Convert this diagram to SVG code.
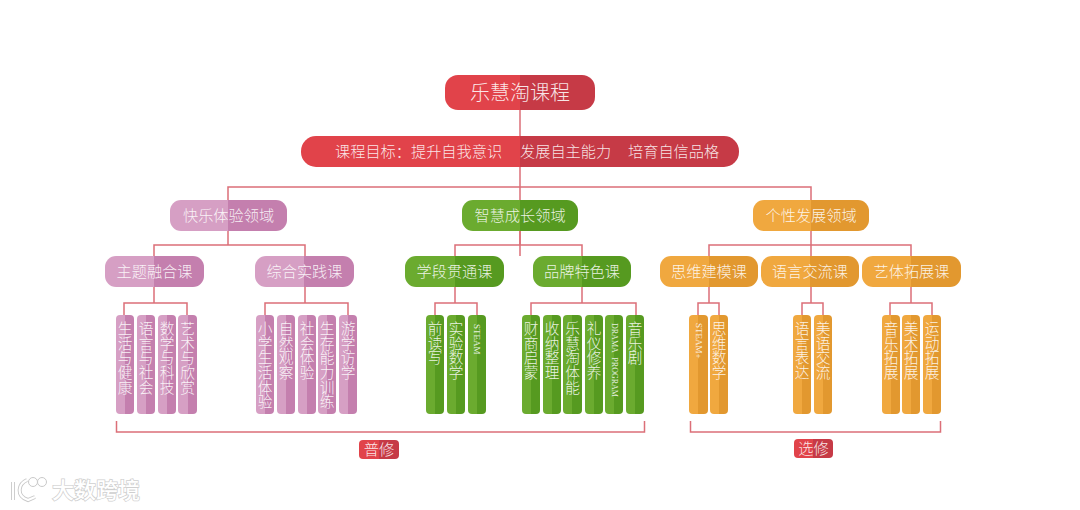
<svg xmlns="http://www.w3.org/2000/svg" width="1080" height="510" viewBox="0 0 1080 510">
<style>
text{font-family:"Noto Sans CJK SC","Noto Sans",sans-serif;font-weight:300;fill:#fff;fill-opacity:.88}
.h{font-size:15.2px;text-anchor:middle}
.v{font-size:14.7px;writing-mode:vertical-rl}
.l{font-family:"Liberation Serif",serif;font-size:9px;writing-mode:vertical-rl}
.c{fill:none;stroke:#dc6f78;stroke-width:1.5}
.w{fill:#fff;stroke:#c9c9c9;stroke-width:1}
.red{fill:url(#gr)}.pur{fill:url(#gp)}.grn{fill:url(#gg)}.org{fill:url(#go)}
</style>
<defs>
<linearGradient id="gr"><stop offset=".5" stop-color="#e1434a"/><stop offset=".5" stop-color="#c63a46"/></linearGradient>
<linearGradient id="gp"><stop offset=".5" stop-color="#d69fc4"/><stop offset=".5" stop-color="#c47fae"/></linearGradient>
<linearGradient id="gg"><stop offset=".5" stop-color="#6bab2f"/><stop offset=".5" stop-color="#569a20"/></linearGradient>
<linearGradient id="go"><stop offset=".5" stop-color="#f0a83f"/><stop offset=".5" stop-color="#e2982f"/></linearGradient>
</defs>
<rect width="1080" height="510" fill="#fff"/>
<g id="connectors">
<path class="c" d="M520 110V256M228 200V187H811V200M228 231V245M154 256V245H305V256M154 287V303M124 315V303H187V315M305 287V303M265 315V303H348V315"/>
<path class="c" d="M455 256V245H582V256M520 231V245M455 287V303M435 315V303H477V315M582 287V303M531 315V303H636V315"/>
<path class="c" d="M811 231V256M709 256V245H911V256M709 287V303M698 315V303H719V315M811 287V303M802 315V303H823V315M911 287V303M890 315V303H932V315"/>
<path class="c" d="M116.500 421V432H644.500V421M690.500 421V432H940.500V421"/>
</g>
<g id="root"><rect class="red" x="445" y="75" width="150" height="35" rx="13"/><text x="520" y="100" class="h" style="font-size:20px">乐慧淘课程</text></g>
<g id="goal"><rect class="red" x="301" y="136" width="438" height="31" rx="15"/><text y="157" style="font-size:15.200px"><tspan x="335">课程目标：提升自我意识</tspan><tspan x="520">发展自主能力</tspan><tspan x="628">培育自信品格</tspan></text></g>
<g id="domain-1"><rect class="pur" x="170" y="200" width="117" height="31" rx="11"/><text x="228.500" y="221" class="h">快乐体验领域</text></g>
<g id="domain-2"><rect class="grn" x="462" y="200" width="116" height="31" rx="11"/><text x="520" y="221" class="h">智慧成长领域</text></g>
<g id="domain-3"><rect class="org" x="753" y="200" width="116" height="31" rx="11"/><text x="811" y="221" class="h">个性发展领域</text></g>
<g id="course-1"><rect class="pur" x="105" y="256" width="99" height="31" rx="11"/><text x="154.500" y="277" class="h">主题融合课</text></g>
<g id="course-2"><rect class="pur" x="255" y="256" width="99" height="31" rx="11"/><text x="304.500" y="277" class="h">综合实践课</text></g>
<g id="course-3"><rect class="grn" x="405" y="256" width="99" height="31" rx="11"/><text x="454.500" y="277" class="h">学段贯通课</text></g>
<g id="course-4"><rect class="grn" x="533" y="256" width="98" height="31" rx="11"/><text x="582" y="277" class="h">品牌特色课</text></g>
<g id="course-5"><rect class="org" x="660" y="256" width="98" height="31" rx="11"/><text x="709" y="277" class="h">思维建模课</text></g>
<g id="course-6"><rect class="org" x="761" y="256" width="98" height="31" rx="11"/><text x="810" y="277" class="h">语言交流课</text></g>
<g id="course-7"><rect class="org" x="862" y="256" width="99" height="31" rx="11"/><text x="911.500" y="277" class="h">艺体拓展课</text></g>
<g id="bar-1"><rect class="pur" x="116" y="315" width="18" height="99" rx="4"/><text class="v" x="125" y="321">生活与健康</text></g>
<g id="bar-2"><rect class="pur" x="137" y="315" width="18" height="99" rx="4"/><text class="v" x="146" y="321">语言与社会</text></g>
<g id="bar-3"><rect class="pur" x="158" y="315" width="18" height="99" rx="4"/><text class="v" x="167" y="321">数学与科技</text></g>
<g id="bar-4"><rect class="pur" x="178" y="315" width="19" height="99" rx="4"/><text class="v" x="187.500" y="321">艺术与欣赏</text></g>
<g id="bar-5"><rect class="pur" x="256" y="315" width="18" height="99" rx="4"/><text class="v" x="265" y="321">小学生活体验</text></g>
<g id="bar-6"><rect class="pur" x="277" y="315" width="18" height="99" rx="4"/><text class="v" x="286" y="321">自然观察</text></g>
<g id="bar-7"><rect class="pur" x="298" y="315" width="18" height="99" rx="4"/><text class="v" x="307" y="321">社会体验</text></g>
<g id="bar-8"><rect class="pur" x="318" y="315" width="18" height="99" rx="4"/><text class="v" x="327" y="321">生存能力训练</text></g>
<g id="bar-9"><rect class="pur" x="339" y="315" width="18" height="99" rx="4"/><text class="v" x="348" y="321">游学访学</text></g>
<g id="bar-10"><rect class="grn" x="426" y="315" width="18" height="99" rx="4"/><text class="v" x="435" y="321">前读写</text></g>
<g id="bar-11"><rect class="grn" x="447" y="315" width="18" height="99" rx="4"/><text class="v" x="456" y="321">实验数学</text></g>
<g id="bar-12"><rect class="grn" x="468" y="315" width="18" height="99" rx="4"/><text class="l" x="477" y="324">STEAM</text></g>
<g id="bar-13"><rect class="grn" x="522" y="315" width="18" height="99" rx="4"/><text class="v" x="531" y="321">财商启蒙</text></g>
<g id="bar-14"><rect class="grn" x="543" y="315" width="18" height="99" rx="4"/><text class="v" x="552" y="321">收纳整理</text></g>
<g id="bar-15"><rect class="grn" x="563" y="315" width="19" height="99" rx="4"/><text class="v" x="572.500" y="321">乐慧淘体能</text></g>
<g id="bar-16"><rect class="grn" x="585" y="315" width="18" height="99" rx="4"/><text class="v" x="594" y="321">礼仪修养</text></g>
<g id="bar-17"><rect class="grn" x="605" y="315" width="18" height="99" rx="4"/><text class="l" x="614" y="323" style="font-size:8px;word-spacing:3px">DRAMA PROGRAM</text></g>
<g id="bar-18"><rect class="grn" x="626" y="315" width="18" height="99" rx="4"/><text class="v" x="635" y="321">音乐剧</text></g>
<g id="bar-19"><rect class="org" x="689" y="315" width="19" height="99" rx="4"/><text class="l" x="698.500" y="323">STEAM+</text></g>
<g id="bar-20"><rect class="org" x="710" y="315" width="18" height="99" rx="4"/><text class="v" x="719" y="321">思维数学</text></g>
<g id="bar-21"><rect class="org" x="793" y="315" width="18" height="99" rx="4"/><text class="v" x="802" y="321">语言表达</text></g>
<g id="bar-22"><rect class="org" x="814" y="315" width="18" height="99" rx="4"/><text class="v" x="823" y="321">美语交流</text></g>
<g id="bar-23"><rect class="org" x="882" y="315" width="18" height="99" rx="4"/><text class="v" x="891" y="321">音乐拓展</text></g>
<g id="bar-24"><rect class="org" x="902" y="315" width="18" height="99" rx="4"/><text class="v" x="911" y="321">美术拓展</text></g>
<g id="bar-25"><rect class="org" x="923" y="315" width="18" height="99" rx="4"/><text class="v" x="932" y="321">运动拓展</text></g>
<g id="label-1"><rect class="red" x="359" y="440" width="40" height="19" rx="4"/><text x="379" y="455" class="h">普修</text></g>
<g id="label-2"><rect class="red" x="794" y="439" width="39" height="19" rx="4"/><text x="813.500" y="454" class="h">选修</text></g>
<g id="watermark">
<path d="M13 482V500" fill="none" stroke="#c9c9c9" stroke-width="4"/>
<path d="M13 482V500" fill="none" stroke="#fff" stroke-width="2.200"/>
<path d="M27 480C18 484 16 496 28 500L35 497" fill="none" stroke="#c9c9c9" stroke-width="4"/>
<path d="M27 480C18 484 16 496 28 500L35 497" fill="none" stroke="#fff" stroke-width="2.200"/>
<circle class="w" cx="33" cy="482" r="4.500"/>
<circle class="w" cx="42" cy="482" r="4.500"/>
<text x="52" y="498" style="font-size:22px;font-weight:500;fill:#fff;fill-opacity:1;stroke:#cfcfcf;stroke-width:1.500;paint-order:stroke">大数跨境</text>
</g>
</svg>
